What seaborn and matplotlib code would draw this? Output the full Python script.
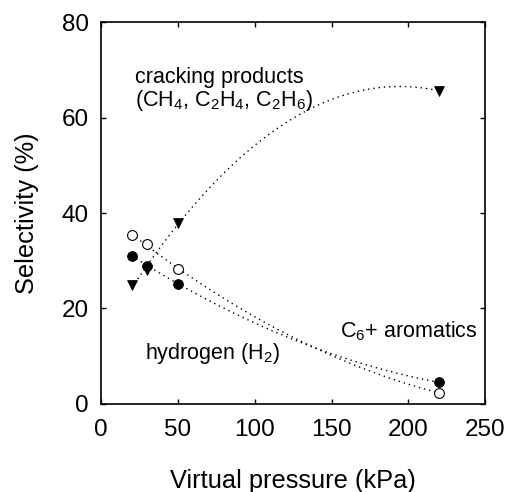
import numpy as np
import pandas as pd
import matplotlib
matplotlib.use("Agg")
import matplotlib.pyplot as plt
import seaborn as sns

pressure = [20, 30, 50, 220]
cracking = [25.0, 28.0, 38.0, 65.6]
open_circ = [35.3, 33.5, 28.3, 2.3]
filled_circ = [31.0, 29.0, 25.2, 4.5]

sns.set_theme(style="ticks")
plt.rcParams['font.family'] = ['Liberation Sans', 'DejaVu Sans']
plt.rcParams.update({"text.color": "black", "axes.labelcolor": "black",
                     "xtick.color": "black", "ytick.color": "black",
                     "mathtext.fontset": "custom", "mathtext.rm": "Liberation Sans"})

fig = plt.figure(figsize=(5.08, 4.92), dpi=100)
ax = fig.add_axes([0.199, 0.179, 0.756, 0.776])

df = pd.DataFrame({"p": pressure, "crack": cracking, "open": open_circ, "filled": filled_circ})

xs = np.linspace(20, 220, 200)
for col in ["crack", "open", "filled"]:
    c = np.polyfit(df["p"], df[col], 2)
    ax.plot(xs, np.polyval(c, xs), color="black", linestyle=(0, (1, 2.8)), linewidth=1.0)

sns.scatterplot(data=df, x="p", y="crack", marker="v", s=50, color="black", edgecolor="black", ax=ax, zorder=3)
sns.scatterplot(data=df, x="p", y="filled", marker="o", s=50, color="black", edgecolor="black", ax=ax, zorder=3)
sns.scatterplot(data=df, x="p", y="open", marker="o", s=50, facecolor="white", edgecolor="black", linewidth=0.8, ax=ax, zorder=3)

ax.set_xlim(0, 250)
ax.set_ylim(0, 80)
ax.set_xticks([0, 50, 100, 150, 200, 250])
ax.set_yticks([0, 20, 40, 60, 80])
ax.tick_params(axis="both", direction="in", length=3.5, width=1, labelsize=17.5,
               top=True, right=True, color="black", labelcolor="black")
ax.tick_params(axis="x", pad=11)
ax.tick_params(axis="y", pad=9)
for s in ax.spines.values():
    s.set_linewidth(1.2)
    s.set_color("black")
ax.set_xlabel("Virtual pressure (kPa)", fontsize=18.3, labelpad=20, color="black")
ax.set_ylabel("Selectivity (%)", fontsize=18.3, labelpad=16, color="black")

ax.text(22, 67.2, "cracking products", fontsize=15.5, va="baseline", color="black")
ax.text(22, 62.5, r"(CH$_4$, C$_2$H$_4$, C$_2$H$_6$)", fontsize=15.5, va="baseline", color="black")
ax.text(155.5, 13.9, r"C$_6$+ aromatics", fontsize=15.5, va="baseline", color="black")
ax.text(28.5, 9.5, r"hydrogen (H$_2$)", fontsize=15.5, va="baseline", color="black")

fig.savefig("out.png", dpi=100)
